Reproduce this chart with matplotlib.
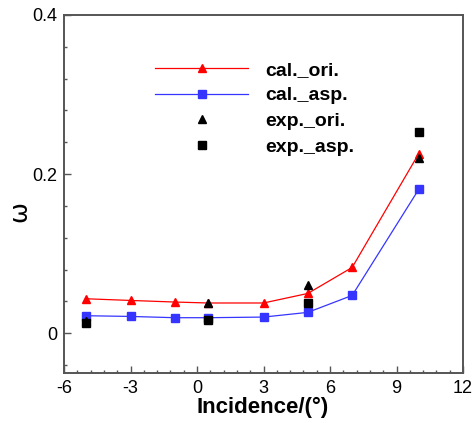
import matplotlib
matplotlib.use("Agg")
import matplotlib.pyplot as plt
from matplotlib.ticker import MultipleLocator

plt.rcParams['font.family'] = ['Liberation Sans', 'DejaVu Sans']
plt.rcParams['axes.unicode_minus'] = False

# computed curves
cal_x = [-5, -3, -1, 0.5, 3, 5, 7, 10]
cal_ori = [0.0433, 0.0412, 0.0392, 0.038, 0.038, 0.0500, 0.0827, 0.2255]
cal_asp = [0.0220, 0.0211, 0.0195, 0.0195, 0.0203, 0.0262, 0.0475, 0.1807]

# experiment
exp_x = [-5, 0.5, 5, 10]
exp_ori = [0.0157, 0.0380, 0.0600, 0.2200]
exp_asp = [0.0128, 0.0170, 0.0375, 0.2527]

labels = ['cal._ori.', 'cal._asp.', 'exp._ori.', 'exp._asp.']
xticks = [-6, -3, 0, 3, 6, 9, 12]
yticks = [0, 0.2, 0.4]
ytick_labels = ['0', '0.2', '0.4']

fig = plt.figure(figsize=(4.74, 4.23), dpi=100)
ax = fig.add_axes([64 / 474, 50 / 423, 399 / 474, 358 / 423])

ms = 6.2
ax.plot(cal_x, cal_ori, '-', color='#ff0000', lw=0.9, marker='^', ms=ms,
        mec='#ff0000', mfc='#ff0000', label=labels[0], zorder=2)
ax.plot(cal_x, cal_asp, '-', color='#3535ff', lw=0.9, marker='s', ms=ms,
        mec='#3535ff', mfc='#3535ff', label=labels[1], zorder=2)
ax.plot(exp_x, exp_ori, ls='none', marker='^', ms=ms, color='black',
        label=labels[2], zorder=3)
ax.plot(exp_x, exp_asp, ls='none', marker='s', ms=ms, color='black',
        label=labels[3], zorder=4)

ax.set_xlim(-6, 12)
ax.set_ylim(-0.05, 0.4)
ax.set_xticks(xticks)
ax.set_yticks(yticks)
ax.set_yticklabels(ytick_labels)
ax.xaxis.set_minor_locator(MultipleLocator(0.6))
ax.yaxis.set_minor_locator(MultipleLocator(0.04))
ax.tick_params(which='both', direction='in', colors='#555555', labelcolor='black',
               labelsize=13, width=1.0)
ax.tick_params(which='major', length=5, pad=5)
ax.tick_params(which='minor', length=2.5)
for s in ax.spines.values():
    s.set_color('#555555')
    s.set_linewidth(1.4)

fig.text(263 / 474, 1 - 407 / 423, 'Incidence/(°)', fontsize=16, fontweight='bold',
         ha='center', va='center')
fig.text(19 / 474, 1 - 211 / 423, 'ω', fontsize=18, rotation=90,
         ha='center', va='center', family=['DejaVu Sans'])

ax.legend(loc='upper left', bbox_to_anchor=(155 / 474, 1 - 61 / 423),
          bbox_transform=fig.transFigure, frameon=False, borderpad=0,
          borderaxespad=0, handlelength=4.8, handletextpad=0.85,
          labelspacing=0.42, numpoints=1,
          prop={'size': 14, 'weight': 'bold'})

fig.savefig('out.png', dpi=100)
